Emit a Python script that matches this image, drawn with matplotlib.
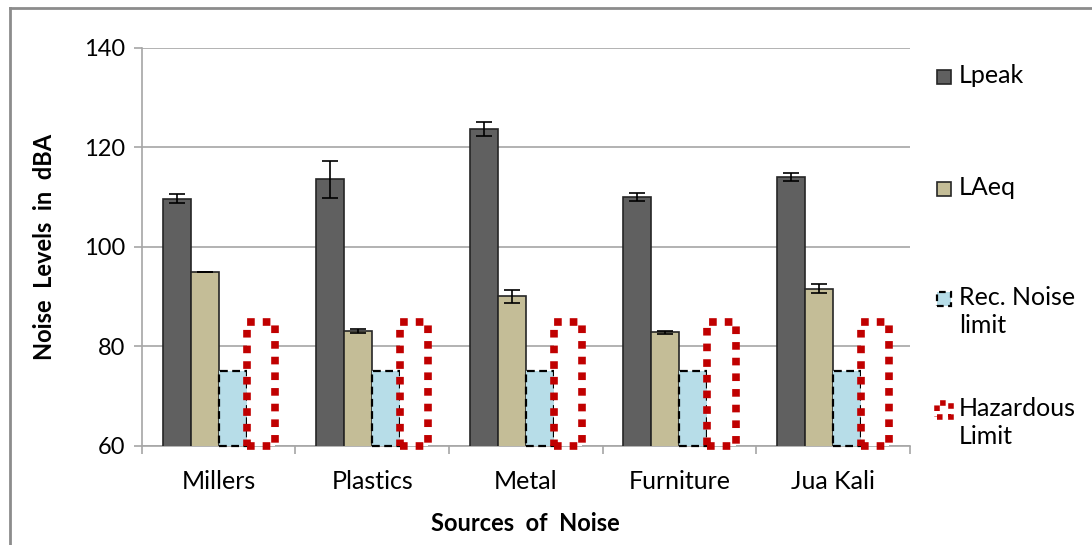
import numpy as np
import matplotlib
matplotlib.use("Agg")
import matplotlib.pyplot as plt
from matplotlib.patches import Rectangle
from matplotlib.lines import Line2D

plt.rcParams['font.family'] = ['Lato', 'DejaVu Sans']

### Data
sources = ['Millers', 'Plastics', 'Metal', 'Furniture', 'Jua Kali']
lpeak = [109.7, 113.6, 123.7, 110.0, 114.1]
lpeak_err = [0.95, 3.7, 1.4, 0.75, 0.8]
laeq = [95.0, 83.2, 90.1, 82.9, 91.6]
laeq_err = [0.0, 0.4, 1.3, 0.3, 0.95]
rec_limit = [75, 75, 75, 75, 75]
haz_limit = [85, 85, 85, 85, 85]
yticks = [60, 80, 100, 120, 140]

### Plot
fig = plt.figure(figsize=(10.92, 5.45), dpi=100)
ax = fig.add_axes([0.130, 0.1817, 0.703, 0.7303])

x = np.arange(len(sources))
w = 0.183
ymin = yticks[0]
grid_c = '#a6a6a6'

ax.bar(x - 1.5*w, lpeak, w, color='#606060', edgecolor='#262626',
       linewidth=1.2, zorder=3)
ax.errorbar(x - 1.5*w, lpeak, yerr=lpeak_err, fmt='none', ecolor='black',
            elinewidth=1.2, capsize=6, capthick=1.2, zorder=4)
ax.bar(x - 0.5*w, laeq, w, color='#c4bd97', edgecolor='#262626',
       linewidth=1.2, zorder=3)
ax.errorbar(x - 0.5*w, laeq, yerr=laeq_err, fmt='none', ecolor='black',
            elinewidth=1.2, capsize=6, capthick=1.2, zorder=4)
# limit bars start at the axis floor so their bottom outline stays visible
ax.bar(x + 0.5*w, np.subtract(rec_limit, ymin), w, bottom=ymin, color='#b7dde8',
       edgecolor='black', linewidth=1.6, linestyle=(0, (3.5, 2)), zorder=3,
       clip_on=False)
ax.bar(x + 1.5*w, np.subtract(haz_limit, ymin), w, bottom=ymin, color='white',
       edgecolor='#c00000', linewidth=5.5, linestyle=(0, (1, 1.05)), zorder=3,
       clip_on=False)

ax.set_ylim(ymin, 140)
ax.set_xlim(-0.5, len(sources) - 0.5)
ax.set_yticks(yticks)
ax.set_xticks(x)
ax.set_xticklabels(sources)
ax.set_xticks(np.arange(len(sources) + 1) - 0.5, minor=True)
ax.tick_params(axis='x', which='major', length=0, labelsize=18, pad=17)
ax.tick_params(axis='x', which='minor', length=6, color=grid_c, width=1.2)
ax.tick_params(axis='y', length=6, color=grid_c, width=1.2, labelsize=17, pad=6)
ax.yaxis.grid(True, color=grid_c, linewidth=1.2, zorder=0)
ax.set_axisbelow(True)
for s in ['top', 'right']:
    ax.spines[s].set_visible(False)
for s in ['left', 'bottom']:
    ax.spines[s].set_color(grid_c)
    ax.spines[s].set_linewidth(1.2)

ax.set_ylabel('Noise  Levels  in  dBA', fontsize=17, fontweight='bold', labelpad=20)
ax.set_xlabel('Sources  of  Noise', fontsize=17, fontweight='bold', labelpad=14)

### Legend (drawn by hand to keep Excel-like spacing)
W, H = 1092., 545.
leg = [
    ('Lpeak', dict(facecolor='#606060', edgecolor='#262626', linewidth=1.2), 77),
    ('LAeq', dict(facecolor='#c4bd97', edgecolor='#262626', linewidth=1.2), 189),
    ('Rec. Noise\nlimit', dict(facecolor='#b7dde8', edgecolor='black', linewidth=1.6,
                               linestyle=(0, (3, 2))), 299),
    ('Hazardous\nLimit', dict(facecolor='white', edgecolor='#c00000', linewidth=4,
                             linestyle=(0, (1, 1))), 410),
]
for label, style, ypix in leg:
    r = Rectangle((937/W, 1 - (ypix + 7)/H), 14/W, 14/H, transform=fig.transFigure, **style)
    fig.add_artist(r)
    fig.text(959/W, 1 - (ypix - 13)/H, label, fontsize=18, va='top', ha='left',
             linespacing=1.25)

### Outer border
fig.add_artist(Line2D([10/W, 1], [1 - 8/H, 1 - 8/H], transform=fig.transFigure,
                      color='#8c8c8c', linewidth=2))
fig.add_artist(Line2D([10/W, 10/W], [0, 1 - 8/H], transform=fig.transFigure,
                      color='#8c8c8c', linewidth=2))

fig.savefig('out.png', dpi=100)
